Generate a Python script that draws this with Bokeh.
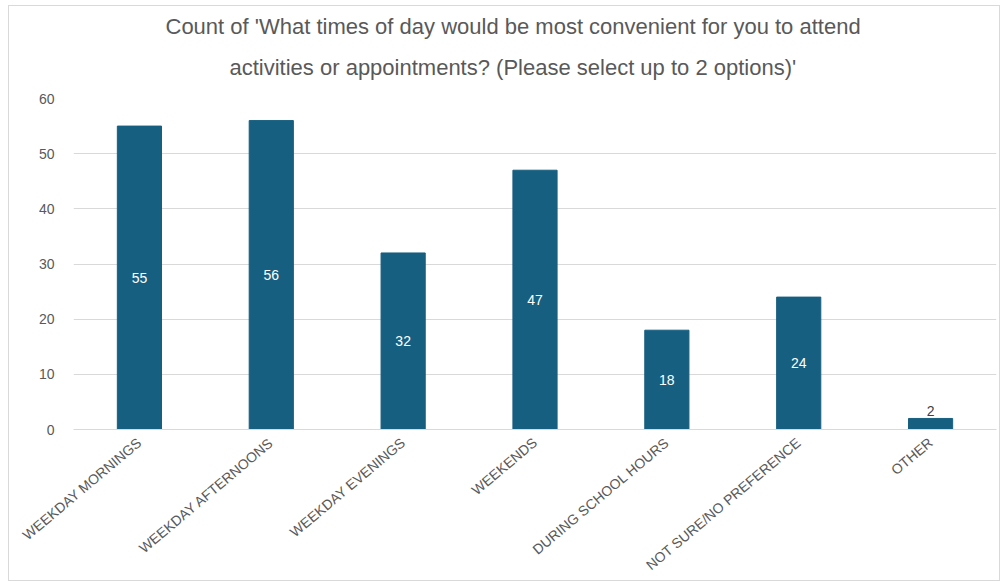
from bokeh.plotting import figure
from bokeh.models import ColumnDataSource, FactorRange, LabelSet, Title
from bokeh.core.properties import value
from bokeh.embed import file_html
from bokeh.resources import INLINE
import math

categories = ["WEEKDAY MORNINGS", "WEEKDAY AFTERNOONS", "WEEKDAY EVENINGS", "WEEKENDS",
              "DURING SCHOOL HOURS", "NOT SURE/NO PREFERENCE", "OTHER"]
counts = [55, 56, 32, 47, 18, 24, 2]
y_ticks = [0, 10, 20, 30, 40, 50, 60]
title_lines = ["Count of 'What times of day would be most convenient for you to attend",
               "activities or appointments? (Please select up to 2 options)'"]

BAR = "#175f80"
GRAY = "#595959"
FONT = "Liberation Sans"

inside = [c >= 10 for c in counts]
src_in = ColumnDataSource(dict(cat=[c for c, i in zip(categories, inside) if i],
                               mid=[v / 2 for v, i in zip(counts, inside) if i],
                               lab=[str(v) for v, i in zip(counts, inside) if i]))
src_out = ColumnDataSource(dict(cat=[c for c, i in zip(categories, inside) if not i],
                                val=[v for v, i in zip(counts, inside) if not i],
                                lab=[str(v) for v, i in zip(counts, inside) if not i]))
src = ColumnDataSource(dict(cat=categories, val=counts))

p = figure(width=992, height=576, x_range=FactorRange(*categories, range_padding=0),
           y_range=(0, 60), output_backend="svg", toolbar_location=None,
           min_border_left=64, min_border_right=5, min_border_top=92, min_border_bottom=147,
           margin=(5, 0, 0, 8))
p.styles = {"border": "1px solid #d9d9d9", "box-sizing": "border-box"}
p.title.visible = False

t2 = Title(text=title_lines[1], align="left", vertical_align="top", text_font=FONT,
           text_font_size="22px", text_font_style="normal", text_color=GRAY, standoff=33,
           offset=156)
t1 = Title(text=title_lines[0], align="left", vertical_align="bottom", text_font=FONT,
           text_font_size="22px", text_font_style="normal", text_color=GRAY, standoff=0,
           offset=92)
p.add_layout(t2, "above")
p.add_layout(t1, "above")

p.vbar(x="cat", top="val", width=0.335, source=src, color=BAR)

p.add_layout(LabelSet(x="cat", y="mid", text="lab", source=src_in, text_color="white",
                      text_font=value(FONT), text_font_size="14px",
                      text_align="center", text_baseline="middle"))
p.add_layout(LabelSet(x="cat", y="val", text="lab", source=src_out, text_color="#404040",
                      text_font=value(FONT), text_font_size="14px",
                      text_align="center", text_baseline="bottom", y_offset=2))

p.xgrid.grid_line_color = None
p.ygrid.grid_line_color = "#d9d9d9"
p.ygrid.grid_line_width = 1
p.outline_line_color = None

p.yaxis.ticker = y_ticks
p.yaxis.axis_line_color = None
p.yaxis.major_tick_line_color = None
p.yaxis.minor_tick_line_color = None
p.yaxis.major_label_text_font = FONT
p.yaxis.major_label_text_font_size = "14px"
p.yaxis.major_label_text_color = GRAY
p.yaxis.major_label_standoff = 13

p.xaxis.axis_line_color = "#d9d9d9"
p.xaxis.major_tick_line_color = None
p.xaxis.minor_tick_line_color = None
p.xaxis.major_label_orientation = 40 * math.pi / 180
p.xaxis.major_label_text_font = FONT
p.xaxis.major_label_text_font_size = "14px"
p.xaxis.major_label_text_color = GRAY
p.xaxis.major_label_standoff = 5

open("out.html", "w").write(file_html(p, INLINE))
